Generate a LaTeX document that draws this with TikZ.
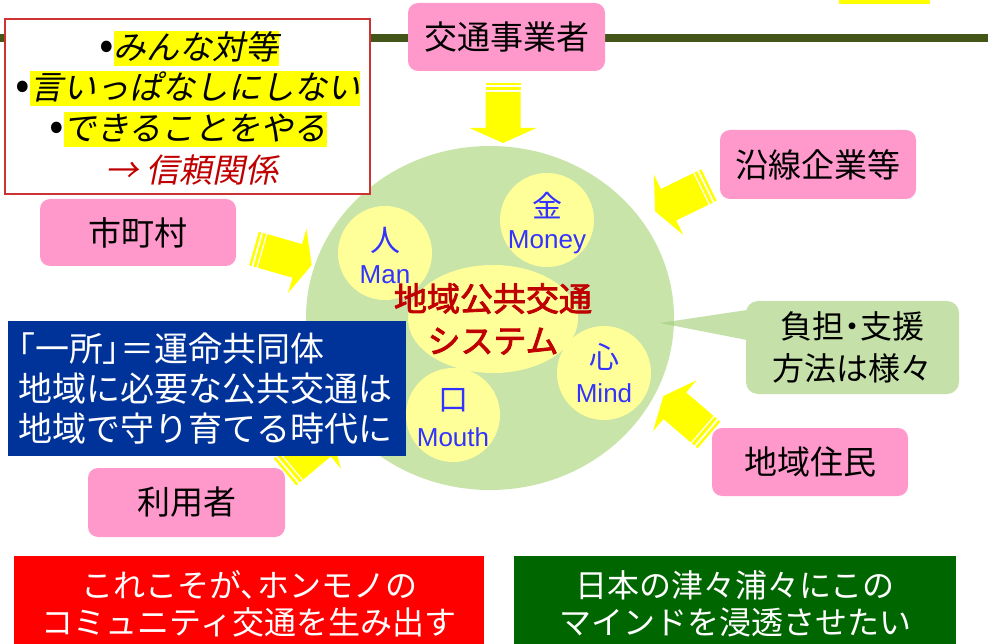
\documentclass[tikz,border=0pt]{standalone}
\usepackage{fontspec}
\usetikzlibrary{shapes.geometric}
\setmainfont{Liberation Sans}
\newfontfamily\jp{Noto Sans CJK JP}
\newfontfamily\jpp[RawFeature=+palt]{Noto Sans CJK JP}
\newfontfamily\jpit[FakeSlant=0.2]{Noto Sans CJK JP}
\newfontfamily\jpb[FakeBold=2.5]{Noto Sans CJK JP}
\definecolor{lineolive}{HTML}{445518}
\definecolor{pinkc}{HTML}{FF99CC}
\definecolor{circgreen}{HTML}{C8E4A8}
\definecolor{callgreen}{HTML}{C5E0A8}
\definecolor{ptrgreen}{HTML}{AFD58E}
\definecolor{lightyel}{HTML}{FFFF99}
\definecolor{hiyel}{HTML}{FFFF00}
\definecolor{blueboxc}{HTML}{003399}
\definecolor{dkred}{HTML}{C00000}
\definecolor{txtblue}{HTML}{3333FF}
\definecolor{redboxc}{HTML}{FF0000}
\definecolor{greenboxc}{HTML}{006600}
\definecolor{frameRed}{HTML}{CC3333}
\setlength\fboxsep{0pt}
\newcommand\hlt[1]{\colorbox{hiyel}{\rule[-0.22em]{0pt}{1.08em}#1}}
\begin{document}
\begin{tikzpicture}[x=1pt,y=-1pt,
  pinkbox/.style={fill=pinkc, rounded corners=10pt, minimum width=196pt, minimum height=68pt, inner sep=0pt, font=\jp\fontsize{33}{36}\selectfont},
  smallcirc/.style={circle, fill=lightyel, minimum size=94pt, inner sep=0pt},
  kanji/.style={text=txtblue, font=\jp\fontsize{30}{32}\selectfont, inner sep=0pt},
  eng/.style={text=txtblue, font=\fontsize{26}{30}\selectfont, inner sep=0pt},
  rulestext/.style={inner sep=0pt, font=\jpit\fontsize{33}{36}\selectfont},
  barrow/.pic={
    \fill[hiyel] (0,-17.5) rectangle (2.5,17.5);
    \fill[hiyel] (4.5,-17.5) rectangle (7.5,17.5);
    \fill[hiyel] (9,-17.5) -- (45,-17.5) -- (45,-33.5) -- (60,0) -- (45,33.5) -- (45,17.5) -- (9,17.5) -- cycle;
  }]
\useasboundingbox (0,0) rectangle (988,644);
\fill[white] (0,0) rectangle (988,644);
% top line and yellow mark
\fill[lineolive] (0,34) rectangle (988,42);
\fill[hiyel] (839,0) rectangle (930,4);
% big circle
\fill[circgreen] (490,318) ellipse [x radius=184, y radius=172];
% small circles
\node[smallcirc] (man) at (385,253) {};
\node[smallcirc] (money) at (547,220) {};
\node[smallcirc] (mind) at (604,373) {};
\node[smallcirc] (mouth) at (453,415) {};
\node[ellipse, fill=lightyel, minimum width=170pt, minimum height=108pt, inner sep=0pt] (core) at (493,319) {};
% labels in circles
\node[kanji] (manK) at (385,240) {人};
\node[eng] (manE) at (385,275) {Man};
\node[kanji] (moneyK) at (547,206) {金};
\node[eng] (moneyE) at (547,242) {Money};
\node[kanji] (mindK) at (604,357) {心};
\node[eng] (mindE) at (604,393) {Mind};
\node[kanji] (mouthK) at (453,400) {口};
\node[eng] (mouthE) at (453,437) {Mouth};
\node[text=dkred, align=center, inner sep=0pt, font=\jpb\fontsize{33}{42}\selectfont] (coreT) at (493,319) {地域公共交通\\システム};
% callout
\coordinate (ptip) at (660,323);
\fill[callgreen] (ptip) -- (747,310) -- (747,340) -- cycle;
\begin{scope}
  \clip (490,318) ellipse [x radius=184, y radius=172];
  \fill[ptrgreen] (ptip) -- (747,310) -- (747,340) -- cycle;
\end{scope}
\node[fill=callgreen, rounded corners=12pt, minimum width=213pt, minimum height=93pt, inner sep=0pt, align=center, font=\jp\fontsize{32}{42}\selectfont] (call) at (852.5,347.5) {負担{\jpp ・}支援\\方法は様々};
% yellow block arrows
\pic[rotate=-90] at (503,83) {barrow};
\pic[rotate=-16] at (254,248.5) {barrow};
\pic[rotate=-154] at (709,185) {barrow};
\pic[rotate=139.5] at (709,435) {barrow};
\pic[rotate=40] at (285,472) {barrow};
% pink boxes
\node[pinkbox, minimum width=197pt] (kotsu) at (506.5,37) {交通事業者};
\node[pinkbox, minimum height=69pt] (ensen) at (818,164.5) {沿線企業等};
\node[pinkbox, minimum height=67pt] (shicho) at (138,232.5) {市町村};
\node[pinkbox, minimum width=197pt, minimum height=69pt] (riyo) at (186.5,502.5) {利用者};
\node[pinkbox] (jumin) at (810,462) {地域住民};
% red-framed box
\node[draw=frameRed, line width=1.3pt, fill=white, minimum width=365pt, minimum height=175pt, inner sep=0pt] (rules) at (187.5,106.5) {};
\node[rulestext] (r1) at (189,48.5) {{\jp\scalebox{1.3}{•}}\hlt{みんな対等}};
\node[rulestext] (r2) at (188,88.5) {{\jp\scalebox{1.3}{•}}\hlt{言いっぱなしにしない}};
\node[rulestext] (r3) at (188,129.5) {{\jp\scalebox{1.3}{•}}\hlt{できることをやる}};
\node[rulestext, text=dkred] (r4) at (192,170) {→ 信頼関係};
% blue box
\node[fill=blueboxc, text=white, minimum width=398pt, minimum height=135pt, inner sep=0pt, anchor=north west] (blue) at (8,321) {};
\node[text=white, align=left, inner sep=0pt, anchor=west, font=\jp\fontsize{34}{40}\selectfont] (blueT) at (18,389) {{\jpp 「}一所{\jpp 」}＝運命共同体\\地域に必要な公共交通は\\地域で守り育てる時代に};
% bottom boxes
\node[fill=redboxc, minimum width=470pt, minimum height=88pt, inner sep=0pt, anchor=north west] (redb) at (14,556) {};
\node[text=white, align=center, inner sep=0pt, font=\jp\fontsize{32}{37}\selectfont] (redT) at (249,603.5) {これこそが{\jpp 、}ホンモノの\\コミュニティ交通を生み出す};
\node[fill=greenboxc, minimum width=442pt, minimum height=88pt, inner sep=0pt, anchor=north west] (greenb) at (514,556) {};
\node[text=white, align=center, inner sep=0pt, font=\jp\fontsize{32}{37}\selectfont] (greenT) at (735,603.5) {日本の津々浦々にこの\\マインドを浸透させたい};
\end{tikzpicture}
\end{document}
